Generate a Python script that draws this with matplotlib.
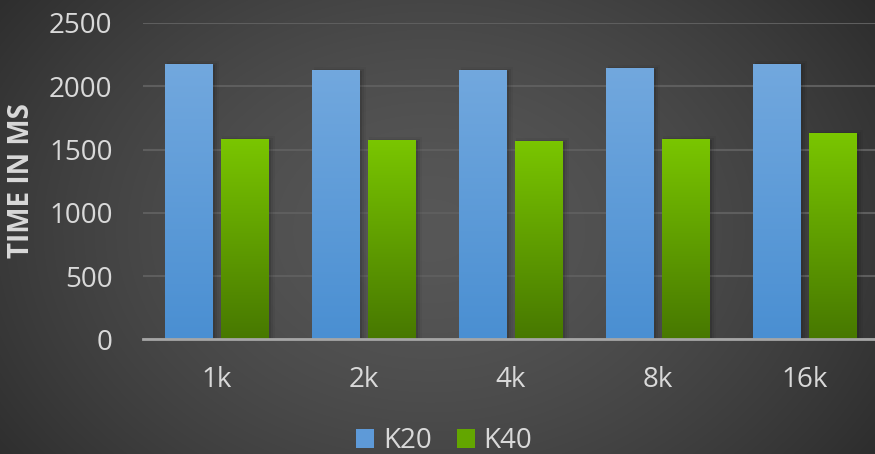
import numpy as np
import matplotlib
matplotlib.use("Agg")
import matplotlib.pyplot as plt
from matplotlib.colors import LinearSegmentedColormap
from matplotlib.patches import Rectangle

categories = ["1k", "2k", "4k", "8k", "16k"]
k20 = [2173, 2126, 2126, 2142, 2173]
k40 = [1581, 1573, 1565, 1581, 1629]
series_names = ["K20", "K40"]
yticks = [0, 500, 1000, 1500, 2000, 2500]

plt.rcParams['font.family'] = ['Open Sans', 'DejaVu Sans']

W, H = 875, 454
fig = plt.figure(figsize=(W / 100, H / 100), dpi=100)

# background radial gradient
bg = fig.add_axes([0, 0, 1, 1], zorder=-10)
yy, xx = np.mgrid[0:H, 0:W]
r = np.sqrt(((xx - 430) / 560.0) ** 2 + ((yy - 230) / 420.0) ** 2)
r = np.clip(r, 0, 1)
val = 0.34 - (0.34 - 0.165) * r ** 1.6
img = np.dstack([val, val, val])
bg.imshow(img, extent=[0, W, H, 0], aspect='auto', interpolation='bilinear')
bg.set_xlim(0, W)
bg.set_ylim(H, 0)
bg.axis('off')

ax = fig.add_axes([143 / W, 1 - 339.3 / H, (W - 143) / W, (339.3 - 23) / H])
ax.patch.set_alpha(0)
x = np.arange(len(categories))
bw = 0.32
gap = 0.06
off = (bw + gap) / 2

ax.set_xlim(-0.5, -0.5 + (W - 143) / 147.0)
ax.set_ylim(0, 2500)

blue_cmap = LinearSegmentedColormap.from_list("b", ["#4a8fd2", "#72a8de"])
green_cmap = LinearSegmentedColormap.from_list("g", ["#477800", "#7ac600"])
grad = np.linspace(0, 1, 256).reshape(-1, 1)

for vals, dx, cmap in [(k20, -off, blue_cmap), (k40, off, green_cmap)]:
    bars = ax.bar(x + dx, vals, width=bw, color='none', zorder=3)
    for b in bars:
        x0, w_, h_ = b.get_x(), b.get_width(), b.get_height()
        # shadow
        for i, a in enumerate([0.10, 0.07, 0.04]):
            s = (i + 1) * 0.012
            ax.add_patch(Rectangle((x0 + 0.01, 0), w_ + s, h_ + 15 * (i + 1) - 20,
                                   facecolor='black', alpha=a, edgecolor='none', zorder=2))
        im = ax.imshow(grad, extent=[x0, x0 + w_, 0, h_], origin='lower', cmap=cmap,
                       aspect='auto', zorder=3)
        im.set_clip_path(b)

ax.set_yticks(yticks)
ax.set_xticks(x)
ax.set_xticklabels(categories)
ax.grid(axis='y', color='#5e5e5e', linewidth=1.5, zorder=1)
ax.set_axisbelow(True)
for s in ['top', 'right', 'left']:
    ax.spines[s].set_visible(False)
ax.spines['bottom'].set_color('#a6a6a6')
ax.spines['bottom'].set_linewidth(2)
ax.spines['bottom'].set_zorder(4)
ax.tick_params(axis='both', length=0, colors='#d9d9d9', labelsize=20)
ax.tick_params(axis='y', pad=22)
ax.tick_params(axis='x', pad=19)

fig.text(22 / W, 1 - 181 / H, "TIME IN MS", rotation=90, ha='center', va='center',
         color='#d9d9d9', fontsize=20, fontweight='bold')

# legend
handles = [Rectangle((0, 0), 1, 1, facecolor="#5e9ad8", edgecolor='none'),
           Rectangle((0, 0), 1, 1, facecolor="#63a600", edgecolor='none')]
leg = fig.legend(handles, series_names, loc='center', bbox_to_anchor=(444 / W, 1 - 441 / H),
                 ncol=2, frameon=False, fontsize=20, labelcolor='#d9d9d9',
                 handlelength=0.65, handleheight=0.65, handletextpad=0.3, columnspacing=0.9,
                 borderpad=0)

fig.savefig("out.png", dpi=100)
